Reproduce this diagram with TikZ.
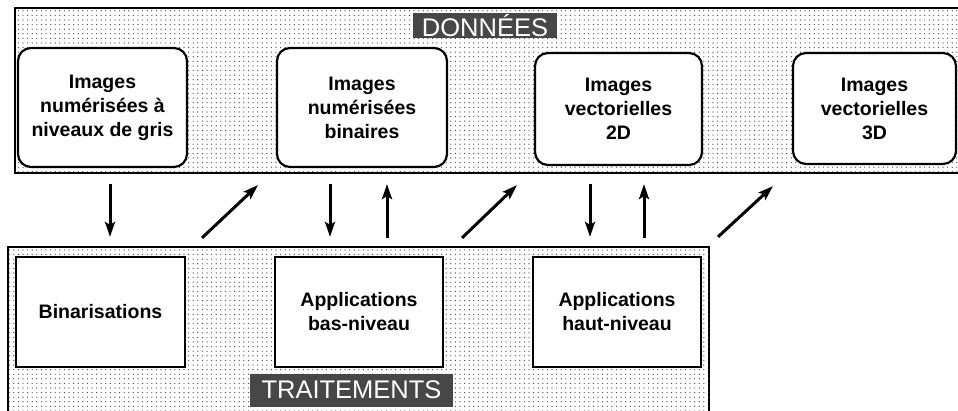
\documentclass[tikz,border=0pt]{standalone}
\usepackage{fontspec}
\setmainfont{Liberation Sans}
\usetikzlibrary{arrows.meta,patterns.meta,calc}
\tikzset{
  panel/.style={draw=black,line width=2.2pt,fill=white,
    postaction={pattern={Dots[distance=4.6pt,radius=0.6pt]},pattern color=black!80}},
  databox/.style={draw=black,line width=2.2pt,fill=white,rounded corners=13pt,
    inner sep=0pt,align=center,font=\fontsize{19.5}{24}\selectfont\bfseries},
  procbox/.style={draw=black,line width=2.2pt,fill=white,
    inner sep=0pt,align=center,font=\fontsize{19.5}{24}\selectfont\bfseries},
  tag/.style={fill=black!72,text=white,inner sep=0pt,
    font=\fontsize{25.5}{25.5}\selectfont},
  arr/.style={line width=3pt,draw=black,
    -{Stealth[length=15pt,width=10pt,inset=3pt,fill=black!45]}}
}
\begin{document}
\begin{tikzpicture}[x=1pt,y=-1pt]
\useasboundingbox (0,0) rectangle (958,411);
% panels
\node[panel,minimum width=952pt,minimum height=165pt,inner sep=0pt] (top) at (491,90.5) {};
\node[panel,minimum width=701pt,minimum height=175pt,inner sep=0pt] (bot) at (358.5,334.5) {};
% labels
\node[tag,minimum width=144pt,minimum height=25pt] (donnees) at (485,25.5) {DONNÉES};
\node[tag,minimum width=203pt,minimum height=33pt] (trait) at (351.5,390) {TRAITEMENTS};
% data boxes
\node[databox,minimum width=169pt,minimum height=119pt] (b1) at (102.5,107.5) {Images\\numérisées à\\niveaux de gris};
\node[databox,minimum width=170pt,minimum height=119pt] (b2) at (362,107.5) {Images\\numérisées\\binaires};
\node[databox,minimum width=167pt,minimum height=112pt] (b3) at (618.5,109) {Images\\vectorielles\\2D};
\node[databox,minimum width=163pt,minimum height=111pt] (b4) at (874.5,108.5) {Images\\vectorielles\\3D};
% process boxes
\node[procbox,minimum width=169pt,minimum height=110pt] (bin) at (100.5,312) {Binarisations};
\node[procbox,minimum width=168pt,minimum height=110pt] (appb) at (359,312) {Applications\\bas-niveau};
\node[procbox,minimum width=168pt,minimum height=110pt] (apph) at (617,312) {Applications\\haut-niveau};
% arrows
\draw[arr] ($(b1.south)+(7.5,16)$) -- ($(bin.north)+(9.5,-19)$);
\draw[arr] ($(bin.north)+(101.5,-18)$) -- ($(b2.south)+(-104,17)$);
\draw[arr] ($(b2.south)+(-32,16)$) -- ($(appb.north)+(-29,-19)$);
\draw[arr] ($(appb.north)+(28,-18)$) -- ($(b2.south)+(25,16)$);
\draw[arr] ($(appb.north)+(103,-18)$) -- ($(b3.south)+(-101.5,19)$);
\draw[arr] ($(b3.south)+(-28.5,18)$) -- ($(apph.north)+(-27,-19)$);
\draw[arr] ($(apph.north)+(27,-18)$) -- ($(b3.south)+(25.5,18)$);
\draw[arr] ($(apph.north)+(101,-19)$) -- ($(b4.south)+(-101.5,21)$);
\end{tikzpicture}
\end{document}
